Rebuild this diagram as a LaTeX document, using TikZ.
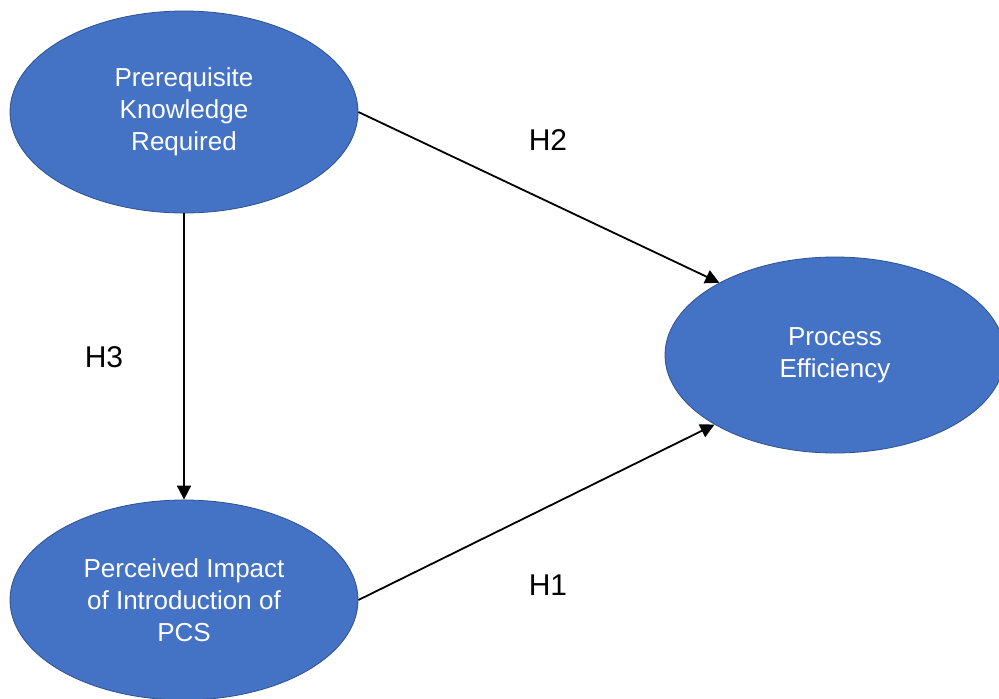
\documentclass[tikz,border=0pt]{standalone}
\usepackage{fontspec}
\setmainfont{Liberation Sans}
\usepackage{xcolor}
\usepackage{tikz}
\usetikzlibrary{shapes,arrows.meta,positioning,calc}

\definecolor{ovalfill}{HTML}{4472C4}
\definecolor{ovaledge}{HTML}{2F528F}

\tikzset{
    construct/.style={ellipse, draw=ovaledge, line width=0.8pt, fill=ovalfill, text=white, align=center, inner sep=0pt, font=\fontsize{26}{32}\selectfont},
    hyp/.style={font=\fontsize{30}{34}\selectfont},
    link/.style={-{Triangle[length=14pt,width=14pt]}, line width=1.8pt}
}

\begin{document}
\begin{tikzpicture}[x=1pt, y=-1pt]
    \useasboundingbox (0,0) rectangle (999,699);
    \clip (0,0) rectangle (999,699);
    \fill[white] (0,0) rectangle (999,699);

    \node (prk) [construct, minimum width=348pt, minimum height=202pt] at (184,112) {Prerequisite\\Knowledge\\Required};
    \node (eff) [construct, minimum width=340pt, minimum height=196pt] at (835,355) {Process\\Efficiency};
    \node (pcs) [construct, minimum width=348pt, minimum height=200pt] at (184,600) {Perceived Impact\\of Introduction of\\PCS};

    \draw [link] (prk.east) -- (eff.148);
    \draw [link] (prk.south) -- (pcs.north);
    \draw [link] (pcs.east) -- (eff.210);

    \node (h2) [hyp] at (548,140) {H2};
    \node (h3) [hyp] at (104,357) {H3};
    \node (h1) [hyp] at (548,585) {H1};
\end{tikzpicture}
\end{document}
